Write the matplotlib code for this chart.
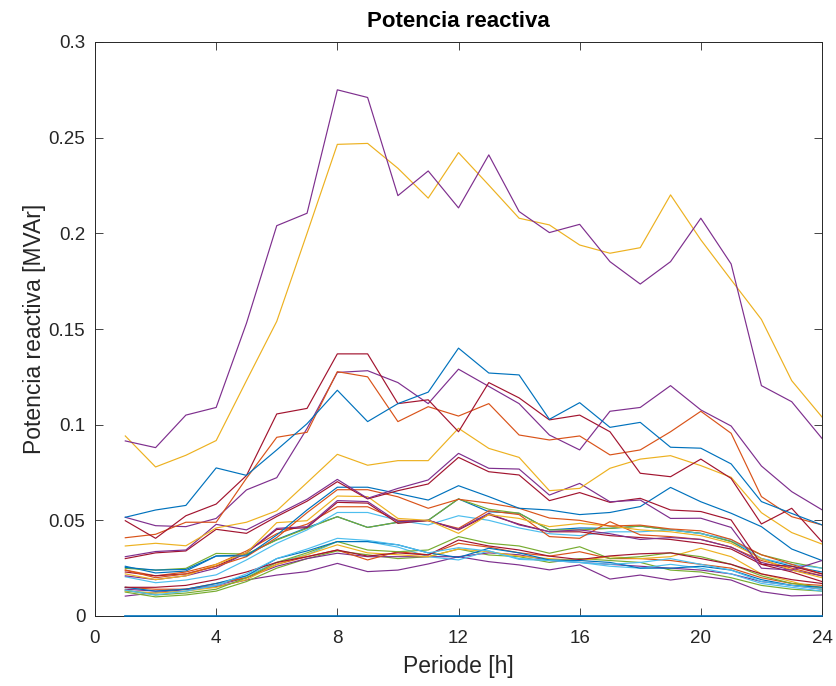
import matplotlib
matplotlib.use("Agg")
import matplotlib.pyplot as plt

hours = list(range(1, 25))

# --- series values (MVAr) ---
top_purple = [0.0915, 0.088, 0.105, 0.109, 0.153, 0.204, 0.2105, 0.275, 0.271, 0.2197, 0.2326, 0.2133,
              0.241, 0.2114, 0.2004, 0.2047, 0.1852, 0.1735, 0.1852, 0.2079, 0.184, 0.1204, 0.112, 0.0928]
top_yellow = [0.0941, 0.0779, 0.084, 0.0917, 0.123, 0.154, 0.2, 0.2465, 0.247, 0.234, 0.2184, 0.2422,
              0.2252, 0.2079, 0.2044, 0.1939, 0.1896, 0.1925, 0.2201, 0.1966, 0.1757, 0.155, 0.123, 0.104]
mid_blue = [0.0516, 0.0554, 0.0578, 0.0774, 0.0735, 0.0868, 0.1005, 0.118, 0.1016, 0.111, 0.117, 0.140,
            0.127, 0.126, 0.1028, 0.1115, 0.0986, 0.1012, 0.0882, 0.0877, 0.0795, 0.0598, 0.0536, 0.0476]
mid_red = [0.0498, 0.0406, 0.0524, 0.0585, 0.0734, 0.1056, 0.1085, 0.137, 0.137, 0.111, 0.113, 0.0963,
           0.122, 0.114, 0.1025, 0.105, 0.0963, 0.0746, 0.0728, 0.082, 0.0719, 0.0481, 0.0563, 0.0388]
mid_orange = [0.0409, 0.0427, 0.049, 0.049, 0.072, 0.0934, 0.096, 0.1277, 0.125, 0.1016, 0.1094, 0.1045,
              0.111, 0.0946, 0.092, 0.0941, 0.0842, 0.0868, 0.0963, 0.107, 0.0955, 0.0624, 0.0519, 0.0476]
mid_purple = [0.0516, 0.0472, 0.0467, 0.051, 0.0659, 0.0723, 0.098, 0.1273, 0.1282, 0.122, 0.111, 0.129,
              0.120, 0.111, 0.0946, 0.0868, 0.107, 0.109, 0.1204, 0.1077, 0.0993, 0.0784, 0.065, 0.0555]
mid_yellow = [0.0366, 0.038, 0.0367, 0.046, 0.049, 0.055, 0.0697, 0.0845, 0.0788, 0.0812, 0.0812, 0.0981,
              0.0876, 0.0829, 0.0655, 0.0667, 0.0772, 0.082, 0.0838, 0.0786, 0.0725, 0.054, 0.0436, 0.0376]

a_purple1 = [0.031, 0.0337, 0.0345, 0.0479, 0.045, 0.053, 0.061, 0.0714, 0.0615, 0.0667, 0.0711, 0.085,
             0.0772, 0.0768, 0.0632, 0.0693, 0.0597, 0.0606, 0.051, 0.0511, 0.0463, 0.025, 0.024, 0.029]
a_red1 = [0.030, 0.033, 0.034, 0.0453, 0.0432, 0.052, 0.060, 0.0702, 0.0612, 0.0655, 0.069, 0.0829,
          0.0754, 0.0737, 0.0603, 0.0645, 0.0594, 0.0615, 0.0554, 0.0546, 0.0502, 0.027, 0.026, 0.022]
a_blue1 = [0.0254, 0.024, 0.0243, 0.0314, 0.0314, 0.0423, 0.0554, 0.0673, 0.0673, 0.064, 0.0606, 0.0681,
           0.0624, 0.0563, 0.0554, 0.053, 0.0541, 0.0572, 0.0672, 0.0597, 0.0537, 0.0467, 0.035, 0.029]
a_orange1 = [0.024, 0.020, 0.022, 0.026, 0.031, 0.041, 0.054, 0.066, 0.066, 0.0623, 0.0563, 0.061,
             0.059, 0.0563, 0.0512, 0.050, 0.047, 0.0475, 0.0455, 0.0445, 0.040, 0.032, 0.027, 0.022]
a_yellow1 = [0.022, 0.019, 0.021, 0.027, 0.033, 0.0488, 0.0498, 0.0627, 0.0624, 0.051, 0.050, 0.0432,
             0.053, 0.051, 0.0467, 0.0484, 0.047, 0.045, 0.044, 0.042, 0.038, 0.030, 0.024, 0.020]
a_purple2 = [0.021, 0.019, 0.021, 0.025, 0.033, 0.0458, 0.0467, 0.0603, 0.0598, 0.0493, 0.050, 0.0453,
             0.0537, 0.0476, 0.0441, 0.045, 0.043, 0.040, 0.041, 0.040, 0.036, 0.028, 0.024, 0.021]
a_red2 = [0.023, 0.021, 0.022, 0.026, 0.033, 0.0452, 0.0462, 0.0594, 0.059, 0.0484, 0.050, 0.045,
          0.053, 0.048, 0.044, 0.044, 0.042, 0.041, 0.040, 0.038, 0.035, 0.027, 0.023, 0.018]
a_orange2 = [0.024, 0.021, 0.023, 0.027, 0.034, 0.043, 0.048, 0.0571, 0.0571, 0.050, 0.0497, 0.0458,
             0.055, 0.053, 0.0415, 0.0406, 0.0493, 0.0424, 0.0415, 0.040, 0.036, 0.029, 0.025, 0.021]
a_lightblue = [0.0205, 0.0174, 0.0188, 0.0215, 0.0293, 0.038, 0.045, 0.0541, 0.0541, 0.050, 0.0476, 0.0524,
               0.050, 0.046, 0.043, 0.042, 0.044, 0.044, 0.045, 0.043, 0.040, 0.030, 0.027, 0.025]
a_green = [0.0249, 0.024, 0.0249, 0.0327, 0.0324, 0.0397, 0.0458, 0.0519, 0.0463, 0.049, 0.050, 0.0612,
           0.0558, 0.0537, 0.045, 0.045, 0.0458, 0.047, 0.045, 0.0432, 0.0389, 0.032, 0.028, 0.025]
a_blue2 = [0.026, 0.0225, 0.0235, 0.0313, 0.032, 0.040, 0.0462, 0.0519, 0.0463, 0.049, 0.050, 0.0612,
           0.0545, 0.0537, 0.045, 0.046, 0.0458, 0.047, 0.045, 0.0432, 0.039, 0.030, 0.026, 0.023]

b_lightblue1 = [0.0135, 0.011, 0.013, 0.016, 0.022, 0.030, 0.035, 0.0406, 0.0395, 0.0372, 0.033, 0.0357,
                0.034, 0.0296, 0.029, 0.028, 0.027, 0.028, 0.030, 0.027, 0.024, 0.018, 0.016, 0.014]
b_red = [0.015, 0.015, 0.016, 0.019, 0.023, 0.028, 0.031, 0.0345, 0.0313, 0.033, 0.0319, 0.0397,
         0.0366, 0.0345, 0.0313, 0.0295, 0.0314, 0.0325, 0.033, 0.0300, 0.027, 0.022, 0.019, 0.017]
b_blue = [0.015, 0.013, 0.014, 0.017, 0.021, 0.030, 0.034, 0.0389, 0.0389, 0.0372, 0.033, 0.0306,
          0.0354, 0.033, 0.0293, 0.029, 0.028, 0.025, 0.025, 0.026, 0.024, 0.019, 0.016, 0.015]
b_green1 = [0.0135, 0.011, 0.012, 0.014, 0.020, 0.028, 0.033, 0.0389, 0.0345, 0.0336, 0.0345, 0.0415,
            0.038, 0.0366, 0.0328, 0.0362, 0.030, 0.031, 0.033, 0.031, 0.027, 0.021, 0.017, 0.015]
b_yellow = [0.013, 0.012, 0.013, 0.015, 0.019, 0.027, 0.032, 0.0372, 0.033, 0.032, 0.031, 0.035,
            0.0336, 0.0313, 0.030, 0.029, 0.031, 0.030, 0.031, 0.0354, 0.031, 0.022, 0.018, 0.014]
b_orange = [0.015, 0.014, 0.014, 0.017, 0.020, 0.027, 0.031, 0.0345, 0.0293, 0.0336, 0.032, 0.038,
            0.036, 0.033, 0.0313, 0.0336, 0.030, 0.030, 0.029, 0.027, 0.025, 0.020, 0.017, 0.016]
b_lightblue2 = [0.013, 0.012, 0.013, 0.016, 0.021, 0.028, 0.032, 0.0389, 0.0389, 0.036, 0.031, 0.0293,
                0.034, 0.030, 0.0293, 0.028, 0.026, 0.025, 0.027, 0.025, 0.022, 0.017, 0.015, 0.013]
b_purple = [0.014, 0.013, 0.014, 0.016, 0.020, 0.026, 0.030, 0.0328, 0.031, 0.031, 0.031, 0.031,
            0.033, 0.032, 0.029, 0.028, 0.027, 0.026, 0.025, 0.024, 0.022, 0.018, 0.016, 0.014]
b_green2 = [0.0125, 0.010, 0.011, 0.013, 0.018, 0.025, 0.030, 0.034, 0.032, 0.030, 0.031, 0.035,
            0.0319, 0.031, 0.028, 0.030, 0.029, 0.028, 0.024, 0.023, 0.020, 0.016, 0.014, 0.013]
b_purple_low = [0.0104, 0.0122, 0.0139, 0.0153, 0.0188, 0.0214, 0.0232, 0.0275, 0.0232, 0.024, 0.0272, 0.031,
                0.0284, 0.0267, 0.0241, 0.0267, 0.0193, 0.0214, 0.0188, 0.0209, 0.0188, 0.0127, 0.0105, 0.011]
zero_series = [0.0] * 24

x_ticks = [0, 4, 8, 12, 16, 20, 24]
y_ticks = [0, 0.05, 0.1, 0.15, 0.2, 0.25, 0.3]
y_tick_labels = ["0", "0.05", "0.1", "0.15", "0.2", "0.25", "0.3"]

# --- styles ---
C_BLUE, C_ORANGE, C_YELLOW, C_PURPLE = "#0072BD", "#D95319", "#EDB120", "#7E2F8E"
C_GREEN, C_LBLUE, C_RED = "#77AC30", "#4DBEEE", "#A2142F"

series = [
    (b_purple_low, C_PURPLE), (b_green2, C_GREEN), (b_purple, C_PURPLE), (b_lightblue2, C_LBLUE),
    (b_orange, C_ORANGE), (b_yellow, C_YELLOW), (b_green1, C_GREEN), (b_blue, C_BLUE),
    (b_red, C_RED), (b_lightblue1, C_LBLUE),
    (a_blue2, C_BLUE), (a_green, C_GREEN), (a_lightblue, C_LBLUE), (a_orange2, C_ORANGE),
    (a_red2, C_RED), (a_purple2, C_PURPLE), (a_yellow1, C_YELLOW), (a_orange1, C_ORANGE),
    (a_blue1, C_BLUE), (a_red1, C_RED), (a_purple1, C_PURPLE),
    (mid_yellow, C_YELLOW), (mid_purple, C_PURPLE), (mid_orange, C_ORANGE), (mid_red, C_RED),
    (mid_blue, C_BLUE), (top_yellow, C_YELLOW), (top_purple, C_PURPLE),
]

plt.rcParams['font.family'] = ['Liberation Sans', 'DejaVu Sans']
AX_COL = "#262626"

fig = plt.figure(figsize=(8.36, 6.86), dpi=100)
ax = fig.add_axes([95 / 836, 1 - 616 / 686, (822 - 95) / 836, (616 - 42) / 686])

for vals, col in series:
    ax.plot(hours, vals, color=col, linewidth=0.85)
ax.plot(hours, zero_series, color=C_BLUE, linewidth=1.2, clip_on=False, zorder=5)

ax.set_xlim(0, 24)
ax.set_ylim(0, 0.3)
ax.set_xticks(x_ticks)
ax.set_xticklabels([str(t) for t in x_ticks])
ax.set_yticks(y_ticks)
ax.set_yticklabels(y_tick_labels)
ax.tick_params(direction="in", length=5.5, width=0.6, colors=AX_COL, labelsize=13.5,
               top=True, right=True)
ax.tick_params(axis="x", pad=10)
ax.tick_params(axis="y", pad=7)
for sp in ax.spines.values():
    sp.set_color(AX_COL)
    sp.set_linewidth(0.7)

ax.set_xlabel("Periode [h]", fontsize=16.5, color=AX_COL, labelpad=6)
ax.set_ylabel("Potencia reactiva [MVAr]", fontsize=16.5, color=AX_COL, labelpad=2)
ax.set_title("Potencia reactiva", fontsize=16, fontweight="bold", color="black", pad=11)

fig.savefig("out.png", dpi=100)
